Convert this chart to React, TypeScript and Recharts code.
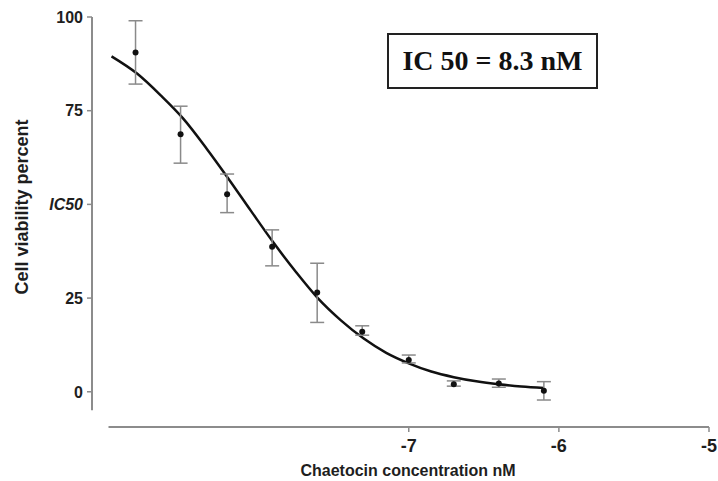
import { ComposedChart, ErrorBar, Label, Line, ReferenceLine, Scatter, XAxis, YAxis } from "recharts";

// log10 concentration (M) of each dose, doubling dilutions
const doses = [-8.82, -8.52, -8.21, -7.91, -7.61, -7.31, -7.0, -6.7, -6.4, -6.1];
const viability = [90.5, 68.7, 52.7, 38.7, 26.5, 16.0, 8.5, 2.0, 2.2, 0.3];
const errLow = [82.1, 61.0, 47.8, 33.6, 18.5, 15.1, 7.7, 1.5, 1.2, -2.2];
const errHigh = [99.0, 76.2, 58.1, 43.2, 34.3, 17.6, 9.8, 2.9, 3.4, 2.7];

// fitted curve
const curveX = [-8.98, -8.81, -8.65, -8.505, -8.345, -8.2, -8.05, -7.905, -7.75, -7.606, -7.45, -7.3, -7.15, -7.0, -6.85, -6.7, -6.55, -6.4, -6.25, -6.1];
const curveY = [89.5, 84.9, 79.0, 73.0, 64.8, 56.8, 48.2, 40.0, 31.9, 25.0, 19.0, 14.2, 10.4, 7.6, 5.4, 3.9, 2.8, 2.0, 1.4, 1.0];

const xTicks = [-7, -6, -5];
const yTicks = [0, 25, 50, 75, 100];

const AXIS = "#8c8c8c";
const TEXT = "#1e1e1e";
const FONT = "Arial, 'Liberation Sans', sans-serif";

const points = doses.map((x, i) => ({
  x,
  y: viability[i],
  err: [viability[i] - errLow[i], errHigh[i] - viability[i]],
}));
const curve = curveX.map((x, i) => ({ x, y: curveY[i] }));

function YTick({ x, y, payload }: any) {
  const is50 = payload.value === 50;
  return (
    <text
      x={x}
      y={y}
      dy="0.36em"
      textAnchor="end"
      fill={TEXT}
      fontFamily={FONT}
      fontSize={16}
      fontWeight="bold"
      fontStyle={is50 ? "italic" : "normal"}
    >
      {is50 ? "IC50" : payload.value}
    </text>
  );
}

export default function App() {
  return (
    <div style={{ position: "absolute", left: 0, top: 0, width: 718, height: 481, background: "#fff" }}>
      <ComposedChart width={718} height={481} margin={{ top: 17, right: 9, bottom: 0, left: 0 }}>
        <XAxis
          dataKey="x"
          type="number"
          domain={[-9.11, -5]}
          allowDataOverflow
          ticks={xTicks}
          axisLine={false}
          tickLine={{ stroke: AXIS, strokeWidth: 1.5 }}
          tickSize={5}
          tickMargin={7}
          height={54}
          tick={{ fill: TEXT, fontSize: 18, fontWeight: "bold", fontFamily: FONT }}
        >
          <Label
            content={() => (
              <text x={408} y={476} textAnchor="middle" fill={TEXT} fontFamily={FONT} fontSize={16} fontWeight="bold">
                Chaetocin concentration nM
              </text>
            )}
          />
        </XAxis>
        <YAxis
          dataKey="y"
          type="number"
          domain={[-9.4, 100]}
          allowDataOverflow
          ticks={yTicks}
          axisLine={false}
          tickLine={{ stroke: AXIS, strokeWidth: 1.5 }}
          tickSize={5}
          tickMargin={4}
          width={92}
          tick={<YTick />}
        >
          <Label
            content={() => (
              <text
                x={22}
                y={207}
                transform="rotate(-90 22 207)"
                textAnchor="middle"
                dominantBaseline="central"
                fill={TEXT}
                fontFamily={FONT}
                fontSize={18}
                fontWeight="bold"
              >
                Cell viability percent
              </text>
            )}
          />
        </YAxis>
        <ReferenceLine
          segment={[{ x: -9.11, y: -4.9 }, { x: -9.11, y: 100 }]}
          stroke={AXIS}
          strokeWidth={2}
          ifOverflow="visible"
        />
        <ReferenceLine
          segment={[{ x: -9.0, y: -9.4 }, { x: -5, y: -9.4 }]}
          stroke={AXIS}
          strokeWidth={2}
          ifOverflow="visible"
        />
        <Line
          data={curve}
          dataKey="y"
          type="monotone"
          stroke="#111"
          strokeWidth={2.5}
          dot={false}
          activeDot={false}
          isAnimationActive={false}
        />
        <Scatter
          data={points}
          dataKey="y"
          isAnimationActive={false}
          shape={(p: any) => <circle cx={p.cx} cy={p.cy} r={3} fill="#111" />}
        >
          <ErrorBar dataKey="err" direction="y" width={7} stroke="#8a8a8a" strokeWidth={1.5} isAnimationActive={false} />
        </Scatter>
      </ComposedChart>
      <div
        style={{
          position: "absolute",
          left: 387,
          top: 33,
          width: 211,
          height: 56,
          boxSizing: "border-box",
          border: "2px solid #222",
          display: "flex",
          alignItems: "center",
          justifyContent: "center",
          fontFamily: "'Liberation Serif', 'Times New Roman', serif",
          fontWeight: "bold",
          fontSize: 28,
          color: "#111",
          whiteSpace: "nowrap",
        }}
      >
        IC 50 = 8.3 nM
      </div>
    </div>
  );
}
